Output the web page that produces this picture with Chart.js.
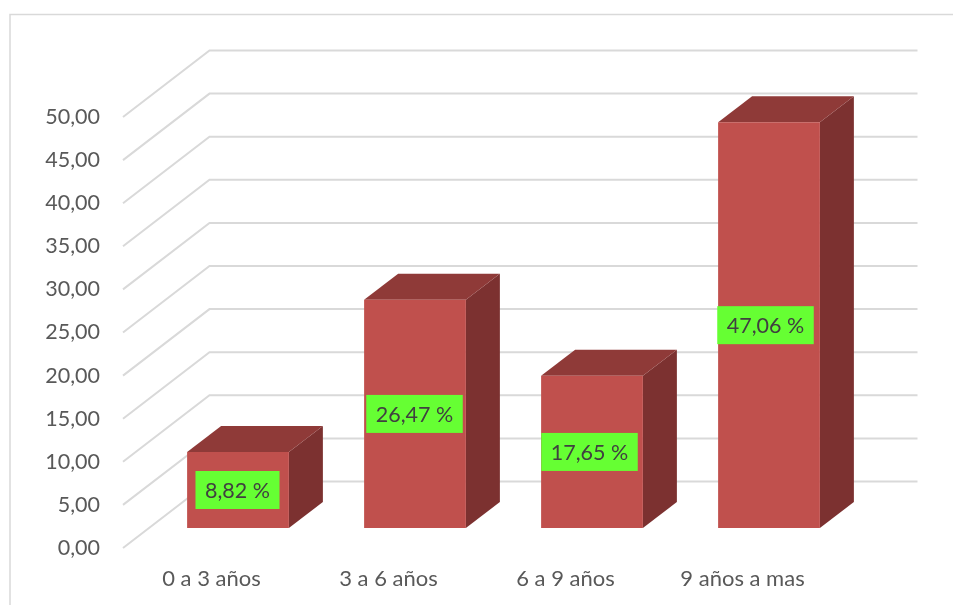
<!DOCTYPE html>
<html>
<head>
<meta charset="utf-8">
<style>html,body{margin:0;padding:0;background:#fff}canvas{display:block}</style>
<script src="https://cdn.jsdelivr.net/npm/chart.js@4"></script>
</head>
<body>
<canvas id="c" width="953" height="605"></canvas>
<script>
const categories = ['0 a 3 años', '3 a 6 años', '6 a 9 años', '9 años a mas'];
const values = [8.82, 26.47, 17.65, 47.06];
const labelShift = [0, 0, -2, -3];

const FONT = 'Lato, "Open Sans", sans-serif';
const comma = v => v.toFixed(2).replace('.', ',');
const wall = { dx: 86.5, dy: -66.5 };
const front = { dx: 26.5, dy: -20 };
const box = { dx: 34, dy: -26 };

const fake3d = {
  id: 'fake3d',
  beforeDraw(chart) {
    const { ctx, width, height } = chart;
    ctx.save();
    ctx.strokeStyle = '#D9D9D9';
    ctx.lineWidth = 1.5;
    ctx.beginPath();
    ctx.moveTo(10, height);
    ctx.lineTo(10, 14.5);
    ctx.lineTo(width, 14.5);
    ctx.stroke();
    ctx.restore();
  },
  beforeDatasetsDraw(chart) {
    const { ctx, scales: { y }, chartArea: a } = chart;
    ctx.save();
    ctx.strokeStyle = '#D9D9D9';
    ctx.lineWidth = 2;
    ctx.lineJoin = 'miter';
    y.ticks.forEach(t => {
      const py = y.getPixelForValue(t.value);
      ctx.beginPath();
      ctx.moveTo(a.left, py);
      ctx.lineTo(a.left + wall.dx, py + wall.dy);
      ctx.lineTo(a.right + wall.dx, py + wall.dy);
      ctx.stroke();
    });
    ctx.restore();
  },
  beforeDatasetDraw(chart, args) {
    const { ctx } = chart;
    const meta = chart.getDatasetMeta(args.index);
    ctx.save();
    ctx.translate(front.dx, front.dy);
    meta.data.forEach(b => {
      const l = b.x - b.width / 2, r = b.x + b.width / 2;
      ctx.fillStyle = '#7C3130';
      ctx.beginPath();
      ctx.moveTo(r, b.y);
      ctx.lineTo(r + box.dx, b.y + box.dy);
      ctx.lineTo(r + box.dx, b.base + box.dy);
      ctx.lineTo(r, b.base);
      ctx.closePath();
      ctx.fill();
      ctx.fillStyle = '#8F3A38';
      ctx.beginPath();
      ctx.moveTo(l, b.y);
      ctx.lineTo(l + box.dx, b.y + box.dy);
      ctx.lineTo(r + box.dx, b.y + box.dy);
      ctx.lineTo(r, b.y);
      ctx.closePath();
      ctx.fill();
    });
  },
  afterDatasetDraw(chart) {
    chart.ctx.restore();
  },
  afterDatasetsDraw(chart) {
    const { ctx } = chart;
    const meta = chart.getDatasetMeta(0);
    ctx.save();
    ctx.font = '21.5px ' + FONT;
    ctx.textAlign = 'center';
    ctx.textBaseline = 'middle';
    meta.data.forEach((b, i) => {
      const text = comma(values[i]) + ' %';
      const w = ctx.measureText(text).width + 19;
      const cx = b.x + front.dx + labelShift[i] - 0.5;
      const cy = (b.y + b.base) / 2 + front.dy;
      ctx.fillStyle = '#66FF33';
      ctx.fillRect(cx - w / 2, cy - 19, w, 38);
      ctx.fillStyle = '#404040';
      ctx.fillText(text, cx, cy + 1);
    });
    ctx.restore();
  }
};

new Chart(document.getElementById('c'), {
  type: 'bar',
  data: {
    labels: categories,
    datasets: [{
      data: values,
      backgroundColor: '#C0504D',
      borderWidth: 0,
      categoryPercentage: 1,
      barPercentage: 0.575
    }]
  },
  plugins: [fake3d],
  options: {
    responsive: false,
    animation: false,
    layout: { padding: { top: 117, right: 122, left: 0, bottom: 0 } },
    plugins: { legend: { display: false }, tooltip: { enabled: false }, title: { display: false } },
    scales: {
      x: {
        grid: { display: false },
        border: { display: false },
        ticks: { color: '#595959', font: { family: FONT, size: 22 }, padding: 10, maxRotation: 0 },
        afterFit(s) { s.height = 57; }
      },
      y: {
        min: 0,
        max: 50,
        grid: { display: false },
        border: { display: false },
        ticks: {
          stepSize: 5,
          color: '#595959',
          font: { family: FONT, size: 21.5 },
          padding: 15,
          callback: v => comma(v)
        },
        afterFit(s) { s.width = 123; }
      }
    }
  }
});
</script>
</body>
</html>
